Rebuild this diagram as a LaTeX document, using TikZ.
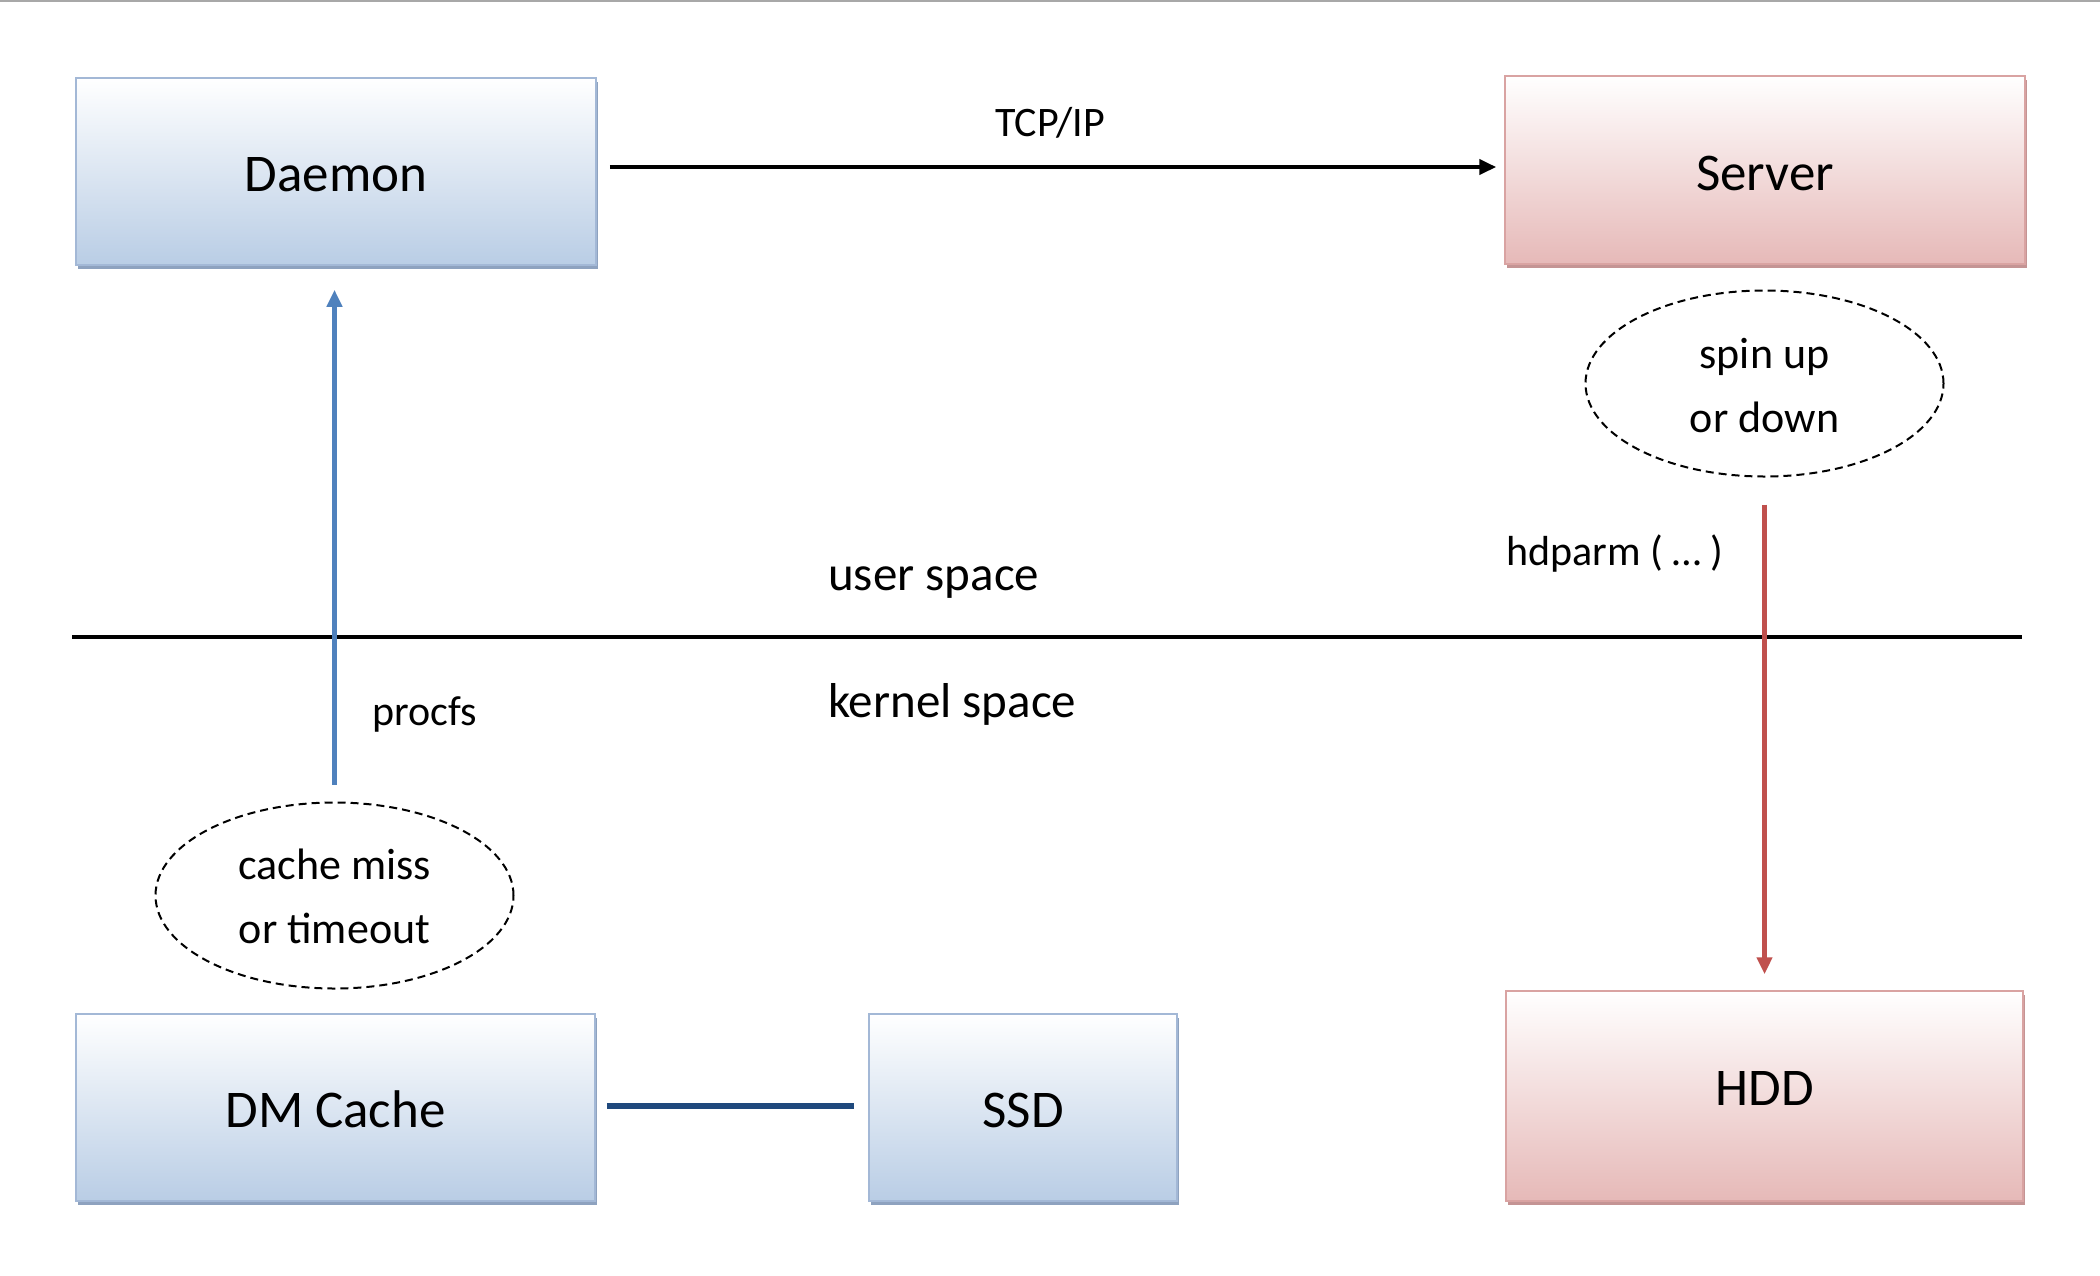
\documentclass[tikz,border=0pt]{standalone}
\usepackage{fontspec}
\setmainfont{Carlito}
\usetikzlibrary{arrows.meta,shapes.geometric,shadows}
\definecolor{bluebot}{HTML}{B9CDE5}
\definecolor{blueline}{HTML}{A3B8D6}
\definecolor{blueshadow}{HTML}{8EA2BF}
\definecolor{redbot}{HTML}{E6B9B8}
\definecolor{redline}{HTML}{D9A3A2}
\definecolor{redshadow}{HTML}{C49494}
\definecolor{arrowblue}{HTML}{4F81BD}
\definecolor{arrowred}{HTML}{C0504D}
\definecolor{darkblue}{HTML}{1F497D}
\definecolor{topgray}{HTML}{A8A8A8}
\begin{document}
\begin{tikzpicture}[x=1pt,y=-1pt,
  box/.style={rectangle, inner sep=0pt, line width=1.5pt, font=\fontsize{53}{60}\selectfont,
    text height=40pt, text depth=0pt},
  bluebox/.style={box, draw=blueline, top color=white, bottom color=bluebot,
    drop shadow={shadow xshift=2pt, shadow yshift=-3.5pt, fill=blueshadow, opacity=1}},
  redbox/.style={box, draw=redline, top color=white, bottom color=redbot,
    drop shadow={shadow xshift=2pt, shadow yshift=-3.5pt, fill=redshadow, opacity=1}},
  note/.style={ellipse, draw=black, dash pattern=on 8pt off 5pt, line width=2pt, inner sep=0pt,
    minimum width=358pt, minimum height=186pt},
  notetext/.style={font=\fontsize{44}{50}\selectfont, anchor=base, inner sep=0pt},
  lbl/.style={font=\fontsize{42}{50}\selectfont, inner sep=0pt},
  spacelbl/.style={font=\fontsize{49}{58}\selectfont, inner sep=0pt, anchor=base west},
  conn/.style={line width=4.5pt, -{Triangle[length=17pt,width=15pt]}},
]
\useasboundingbox (0,0) rectangle (2100,1275);
\fill[white] (0,0) rectangle (2100,1275);
\coordinate (tl) at (0,1);
\coordinate (tr) at (2100,1);
\draw[topgray, line width=2pt] (tl) -- (tr);

% boxes
\node[bluebox, minimum width=520pt, minimum height=187pt] (daemon) at (336,171.5) {Daemon};
\node[redbox, minimum width=520pt, minimum height=188pt] (server) at (1765,170) {Server};
\node[bluebox, minimum width=519pt, minimum height=187pt] (dmcache) at (335.5,1107.5) {DM Cache};
\node[bluebox, minimum width=308pt, minimum height=187pt] (ssd) at (1023,1107.5) {SSD};
\node[redbox, minimum width=517pt, minimum height=210pt, text height=34pt, text depth=16pt] (hdd) at (1764.5,1096) {HDD};

% notes
\node[note] (spin) at (1764.5,383.5) {};
\node[notetext] (spin1) at (1764.5,368) {spin up};
\node[notetext] (spin2) at (1764.5,432) {or down};
\node[note] (miss) at (334.5,895.5) {};
\node[notetext] (miss1) at (334.5,879) {cache miss};
\node[notetext] (miss2) at (334.5,943) {or timeout};

% divider
\coordinate (divL) at (72,637);
\coordinate (divR) at (2022,637);
\draw[black, line width=4.5pt] (divL) -- (divR);
\node[spacelbl] (user) at (828,590) {user space};
\node[spacelbl] (kernel) at (828,717) {kernel space};

% connectors
\draw[conn, black, shorten <=13pt, shorten >=8pt] (daemon.east |- 0,167) -- (server.west |- 0,167);
\node[lbl, anchor=base] (tcp) at (1050,136.5) {TCP/IP};

\draw[conn, arrowblue, shorten <=17pt, shorten >=24pt] (miss.north) -- (miss.north |- daemon.south);
\node[lbl, anchor=base west] (procfs) at (372,725) {procfs};

\draw[conn, arrowred, shorten <=27pt, shorten >=16pt] (spin.south) -- (hdd.north);
\node[lbl, anchor=base west] (hdparm) at (1506,565) {hdparm ( … )};

\draw[darkblue, line width=6pt, shorten <=11pt, shorten >=14pt] (dmcache.east |- 0,1106) -- (ssd.west |- 0,1106);
\end{tikzpicture}
\end{document}
